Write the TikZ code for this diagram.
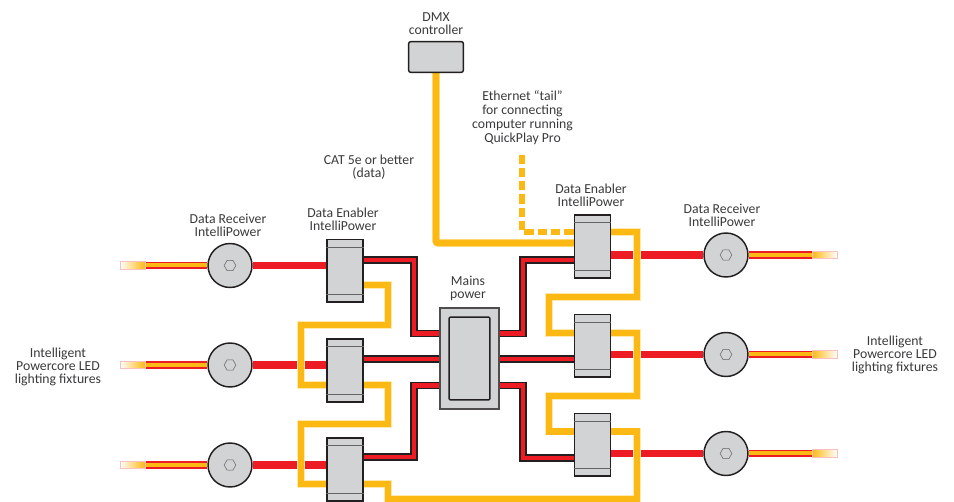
\documentclass[tikz,border=0pt]{standalone}
\usepackage{fontspec}
\setmainfont{Carlito}
\usetikzlibrary{calc,shapes.geometric}
\pgfdeclarelayer{wires}
\pgfdeclarelayer{over}
\pgfsetlayers{wires,main,over}
\definecolor{ylw}{HTML}{FDB913}
\definecolor{ylwh}{HTML}{FFE9B0}
\definecolor{rd}{HTML}{ED1C24}
\definecolor{blk}{HTML}{231F20}
\definecolor{bx}{HTML}{D1D3D4}
\definecolor{txt}{HTML}{3A3A3C}
\definecolor{pnk}{HTML}{F9C0C0}
\tikzset{
  x=0.75pt,y=-0.75pt,
  lbl/.style={align=center,text=txt,inner sep=0pt,font=\fontsize{10.3}{9.9}\selectfont},
  enabler/.style={draw=blk,fill=bx,line width=1.1pt,minimum width=27pt,minimum height=47pt,inner sep=0pt},
  receiver/.style={circle,draw=blk,fill=bx,line width=1.1pt,minimum size=33pt,inner sep=0pt},
  hexa/.style={regular polygon,regular polygon sides=6,draw=blk!70,line width=.4pt,minimum size=8.8pt,inner sep=0pt},
  dataline/.style={draw=ylw,line width=4.9pt,line join=miter,preaction={draw=ylwh,line width=5.7pt}},
  tailline/.style={draw=ylw,line width=4.9pt,dash pattern=on 7pt off 3pt},
  redline/.style={draw=rd,line width=5.6pt},
  powerline/.style={draw=blk,line width=5.4pt,line join=miter,postaction={draw=rd,line width=3.1pt}},
  fibre/.style={draw=pnk,line width=.5pt},
}
\begin{document}
\begin{tikzpicture}
\useasboundingbox (0,0) rectangle (954,502);
% boxes
\node[draw=blk,fill=bx,line width=1.1pt,rounded corners=1.5pt,minimum width=41pt,minimum height=23pt,inner sep=0pt] (dmx) at (436,57) {};
\node[draw=blk!80,fill=bx,line width=1.1pt,minimum width=44pt,minimum height=75.5pt,inner sep=0pt] (mains) at (469.5,358.5) {};
\node[draw=blk,fill=bx,line width=1.1pt,rounded corners=.8pt,minimum width=30.5pt,minimum height=62pt,inner sep=0pt] (mainsin) at (469.5,358.5) {};
\node[enabler] (e1) at (345,270.75) {};
\node[enabler] (e2) at (345,370.5) {};
\node[enabler] (e3) at (345,469.5) {};
\node[enabler] (e4) at (592.5,246.5) {};
\node[enabler] (e5) at (592.5,345.75) {};
\node[enabler] (e6) at (592.5,444.75) {};
\foreach \n in {e1,e2,e3,e4,e5,e6}{
  \draw[blk!70,line width=.8pt] ($(\n.north west)+(0,8.5)$) -- ($(\n.north east)+(0,8.5)$);
  \draw[blk!70,line width=.8pt] ($(\n.south west)+(0,-8)$) -- ($(\n.south east)+(0,-8)$);
}
\node[receiver] (r1) at (230,265.5) {};
\node[receiver] (r2) at (230,365) {};
\node[receiver] (r3) at (230,465) {};
\node[receiver] (r4) at (726,255) {};
\node[receiver] (r5) at (726,354.5) {};
\node[receiver] (r6) at (726,453.5) {};
\foreach \n in {r1,r2,r3,r4,r5,r6}{\node[hexa] at (\n) {};}
% fibre tails
\coordinate (t1) at (145,265.5);
\coordinate (t2) at (145,365);
\coordinate (t3) at (145,465);
\coordinate (t4) at (812,255);
\coordinate (t5) at (812,354.5);
\coordinate (t6) at (812,453.5);
\begin{pgfonlayer}{wires}
\foreach \r/\t in {r1/t1,r2/t2,r3/t3,r4/t4,r5/t5,r6/t6}{
  \draw[redline] (\r) -- (\t);
  \draw[draw=ylw,line width=3pt] (\r) -- (\t);
}
\foreach \t in {t1,t2,t3}{
  \path[fibre,left color=white,right color=ylw] ($(\t)+(-25,-3.7)$) rectangle ($(\t)+(0,3.7)$);
  \draw[fibre] ($(\t)+(0,-3.7)$) -- ($(\t)+(-25,-3.7)$) -- ($(\t)+(-25,3.7)$) -- ($(\t)+(0,3.7)$);
}
\foreach \t in {t4,t5,t6}{
  \path[fibre,left color=ylw,right color=white] ($(\t)+(0,-3.7)$) rectangle ($(\t)+(25,3.7)$);
  \draw[fibre] ($(\t)+(0,-3.7)$) -- ($(\t)+(25,-3.7)$) -- ($(\t)+(25,3.7)$) -- ($(\t)+(0,3.7)$);
}
% receiver feeds
\draw[redline] (r1) -- (r1 -| e1.west);
\draw[redline] (r2) -- (r2 -| e2.west);
\draw[redline] (r3) -- (r3 -| e3.west);
\draw[redline] (r4) -- (r4 -| e4.east);
\draw[redline] (r5) -- (r5 -| e5.east);
\draw[redline] (r6) -- (r6 -| e6.east);
% mains
\draw[powerline] ($(e1.east)+(0,-10.75)$) -| (414,333.5) -- ($(mains.west)+(0,-25)$);
\draw[powerline] ($(e2.east)+(0,-11.5)$) -- ($(mains.west)+(0,0.5)$);
\draw[powerline] ($(e3.east)+(0,-12.5)$) -| (414,385.5) -- ($(mains.west)+(0,27)$);
\draw[powerline] ($(mains.east)+(0,-25)$) -| (523,260) -- ($(e4.west)+(0,13.5)$);
\draw[powerline] ($(mains.east)+(0,0.5)$) -- ($(e5.west)+(0,13.25)$);
\draw[powerline] ($(mains.east)+(0,27)$) -| (523,458) -- ($(e6.west)+(0,13.25)$);
% data
\draw[dataline,rounded corners=1.5pt] (dmx.south) |- ($(e4.west)+(0,-3.5)$);
\draw[tailline] ($(e4.west)+(0,-14.5)$) -| (522,155);
\draw[dataline] ($(e1.east)+(0,14.25)$) -| (388,325) -| (301,385) -- ($(e2.west)+(0,14.5)$);
\draw[dataline] ($(e2.east)+(0,14.5)$) -| (388,424) -| (301,484) -- ($(e3.west)+(0,14.5)$);
\draw[dataline] ($(e3.east)+(0,14.5)$) -| (388,499) -| (637,431.5) -- ($(e6.east)+(0,-13.25)$);
\draw[dataline] ($(e6.west)+(0,-13.25)$) -| (549,396) -| (637,333) -- ($(e5.east)+(0,-12.75)$);
\draw[dataline] ($(e5.west)+(0,-12.75)$) -| (549,297) -| (637,232) -- ($(e4.east)+(0,-14.5)$);
\end{pgfonlayer}
% labels
\node[lbl] (ldmx) at (436,24) {DMX\\controller};
\node[lbl,font=\fontsize{10.3}{10.6}\selectfont] (leth) at (522.5,117.5) {Ethernet “tail”\\for connecting\\computer running\\QuickPlay Pro};
\node[lbl] (lcat) at (369,167.5) {CAT 5e or better\\(data)};
\node[lbl] (lr1) at (228,225.5) {Data Receiver\\IntelliPower};
\node[lbl] (le1) at (343,219) {Data Enabler\\IntelliPower};
\node[lbl] (lm) at (468,288.5) {Mains\\power};
\node[lbl] (le4) at (591,195.5) {Data Enabler\\IntelliPower};
\node[lbl] (lr4) at (722,215) {Data Receiver\\IntelliPower};
\node[lbl] (lil) at (58,367) {Intelligent\\Powercore LED\\lighting fixtures};
\node[lbl] (lir) at (895,355) {Intelligent\\Powercore LED\\lighting fixtures};
\end{tikzpicture}
\end{document}
